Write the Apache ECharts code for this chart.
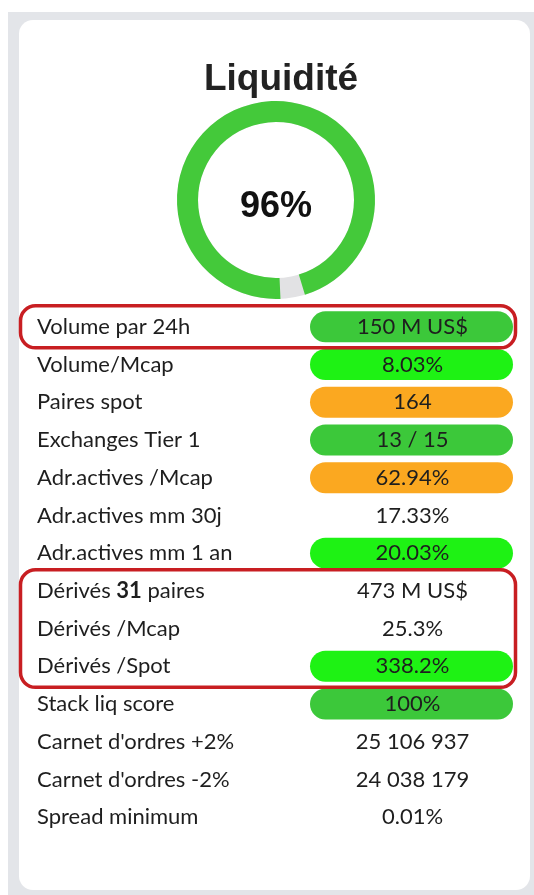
<!DOCTYPE html>
<html>
<head>
<meta charset="utf-8">
<script src="https://cdn.jsdelivr.net/npm/echarts@6/dist/echarts.min.js"></script>
<style>
html,body{margin:0;padding:0;background:#fff;}
#liq{width:534px;height:895px;}
</style>
</head>
<body>
<div id="liq"></div>
<script>
// données -- liquidité
var titre = 'Liquidité';
var score = 96;
var libelles = ['Volume par 24h','Volume/Mcap','Paires spot','Exchanges Tier 1','Adr.actives /Mcap',
    'Adr.actives mm 30j','Adr.actives mm 1 an','Dérivés {b|31} paires','Dérivés /Mcap','Dérivés /Spot',
    'Stack liq score',"Carnet d'ordres +2%","Carnet d'ordres -2%",'Spread minimum'];
var valeurs = ['150 M US$','8.03%','164','13 / 15','62.94%','17.33%','20.03%','473 M US$','25.3%',
    '338.2%','100%','25 106 937','24 038 179','0.01%'];
// niveau de chaque ligne : v = vert, vv = vert vif, o = orange, '' = sans fond
var niveaux = ['v','vv','o','v','o','','vv','','','vv','v','','',''];
// lignes encadrées en rouge (début, fin)
var encadres = [[0,0],[7,9]];

var couleurs = {v:'#3cc83a', vv:'#1ef214', o:'#fba820'};
var police = 'Lato, "Open Sans", sans-serif';
var taille = 22;

var chart = echarts.init(document.getElementById('liq'));
var option = {
    animation: false,
    graphic: [
        {type:'rect', z:-20, shape:{x:8,y:12,width:526,height:883}, style:{fill:'#e3e5e9'}},
        {type:'rect', z:-10, shape:{x:19,y:20,width:511,height:870,r:14}, style:{fill:'#ffffff'}}
    ],
    title: {
        text: titre,
        left: 276, top: 56, textAlign: 'center',
        textStyle: {fontFamily:'"Liberation Sans", Arial, sans-serif', fontSize:37, fontWeight:'bold', color:'#222'}
    },
    grid: {left:310, right:21, top:308, bottom:59},
    xAxis: {type:'value', min:0, max:1, show:false},
    yAxis: {
        type:'category', inverse:true, data:libelles,
        axisLine:{show:false}, axisTick:{show:false}, splitLine:{show:false},
        axisLabel:{
            align:'left', margin:273, fontFamily:police, fontSize:taille, color:'#1e1e1e',
            rich:{b:{fontFamily:police, fontSize:taille, fontWeight:'bold', color:'#1e1e1e'}}
        }
    },
    series: [
        {
            // anneau de fond
            type:'gauge',
            center:[276,200], radius:99,
            startAngle:90, endAngle:-270,
            axisLine:{lineStyle:{width:21, color:[[1,'#e2e2e4']]}},
            pointer:{show:false}, axisTick:{show:false}, splitLine:{show:false}, axisLabel:{show:false},
            anchor:{show:false}, title:{show:false}, detail:{show:false},
            data:[{value:0}]
        },
        {
            type:'gauge',
            center:[276,200], radius:99,
            startAngle:-87.4, endAngle:-452,
            min:0, max:100,
            axisLine:{lineStyle:{width:0, opacity:0}},
            progress:{show:true, width:21, itemStyle:{color:'#44c93a', borderRadius:5}},
            pointer:{show:false}, axisTick:{show:false}, splitLine:{show:false}, axisLabel:{show:false},
            anchor:{show:false}, title:{show:false},
            detail:{
                valueAnimation:false, offsetCenter:[0,7], formatter:'{value}%',
                fontFamily:'"Liberation Sans", Arial, sans-serif', fontSize:36, fontWeight:'bold', color:'#111'
            },
            data:[{value:score}]
        },
        {
            type:'custom',
            data: valeurs.map(function (v, i) { return [i, v, niveaux[i]]; }),
            renderItem: function (params, api) {
                var i = api.value(0);
                var p0 = api.coord([0, i]);
                var p1 = api.coord([1, i]);
                var item = valeurs[i], niv = niveaux[i];
                var h = 31;
                var kids = [];
                if (niv) {
                    kids.push({type:'rect', shape:{x:p0[0], y:p0[1]-h/2, width:p1[0]-p0[0], height:h, r:h/2},
                        style:{fill:couleurs[niv]}});
                }
                kids.push({type:'text', style:{text:item, x:(p0[0]+p1[0])/2 + 1, y:p0[1],
                    align:'center', verticalAlign:'middle', font:taille + 'px ' + police, fill:'#1e1e1e'}});
                return {type:'group', children:kids};
            }
        }
    ]
};
chart.setOption(option);

// encadrés rouges
var cadres = encadres.map(function (e) {
    var y0 = chart.convertToPixel({gridIndex:0}, [0, e[0]])[1];
    var y1 = chart.convertToPixel({gridIndex:0}, [0, e[1]])[1];
    return {type:'rect', z:100,
        shape:{x:20.5, y:y0-21, width:495, height:y1-y0+42, r:15},
        style:{fill:'none', stroke:'#c81e22', lineWidth:3.5}};
});
chart.setOption({graphic: option.graphic.concat(cadres)});
</script>
</body>
</html>
